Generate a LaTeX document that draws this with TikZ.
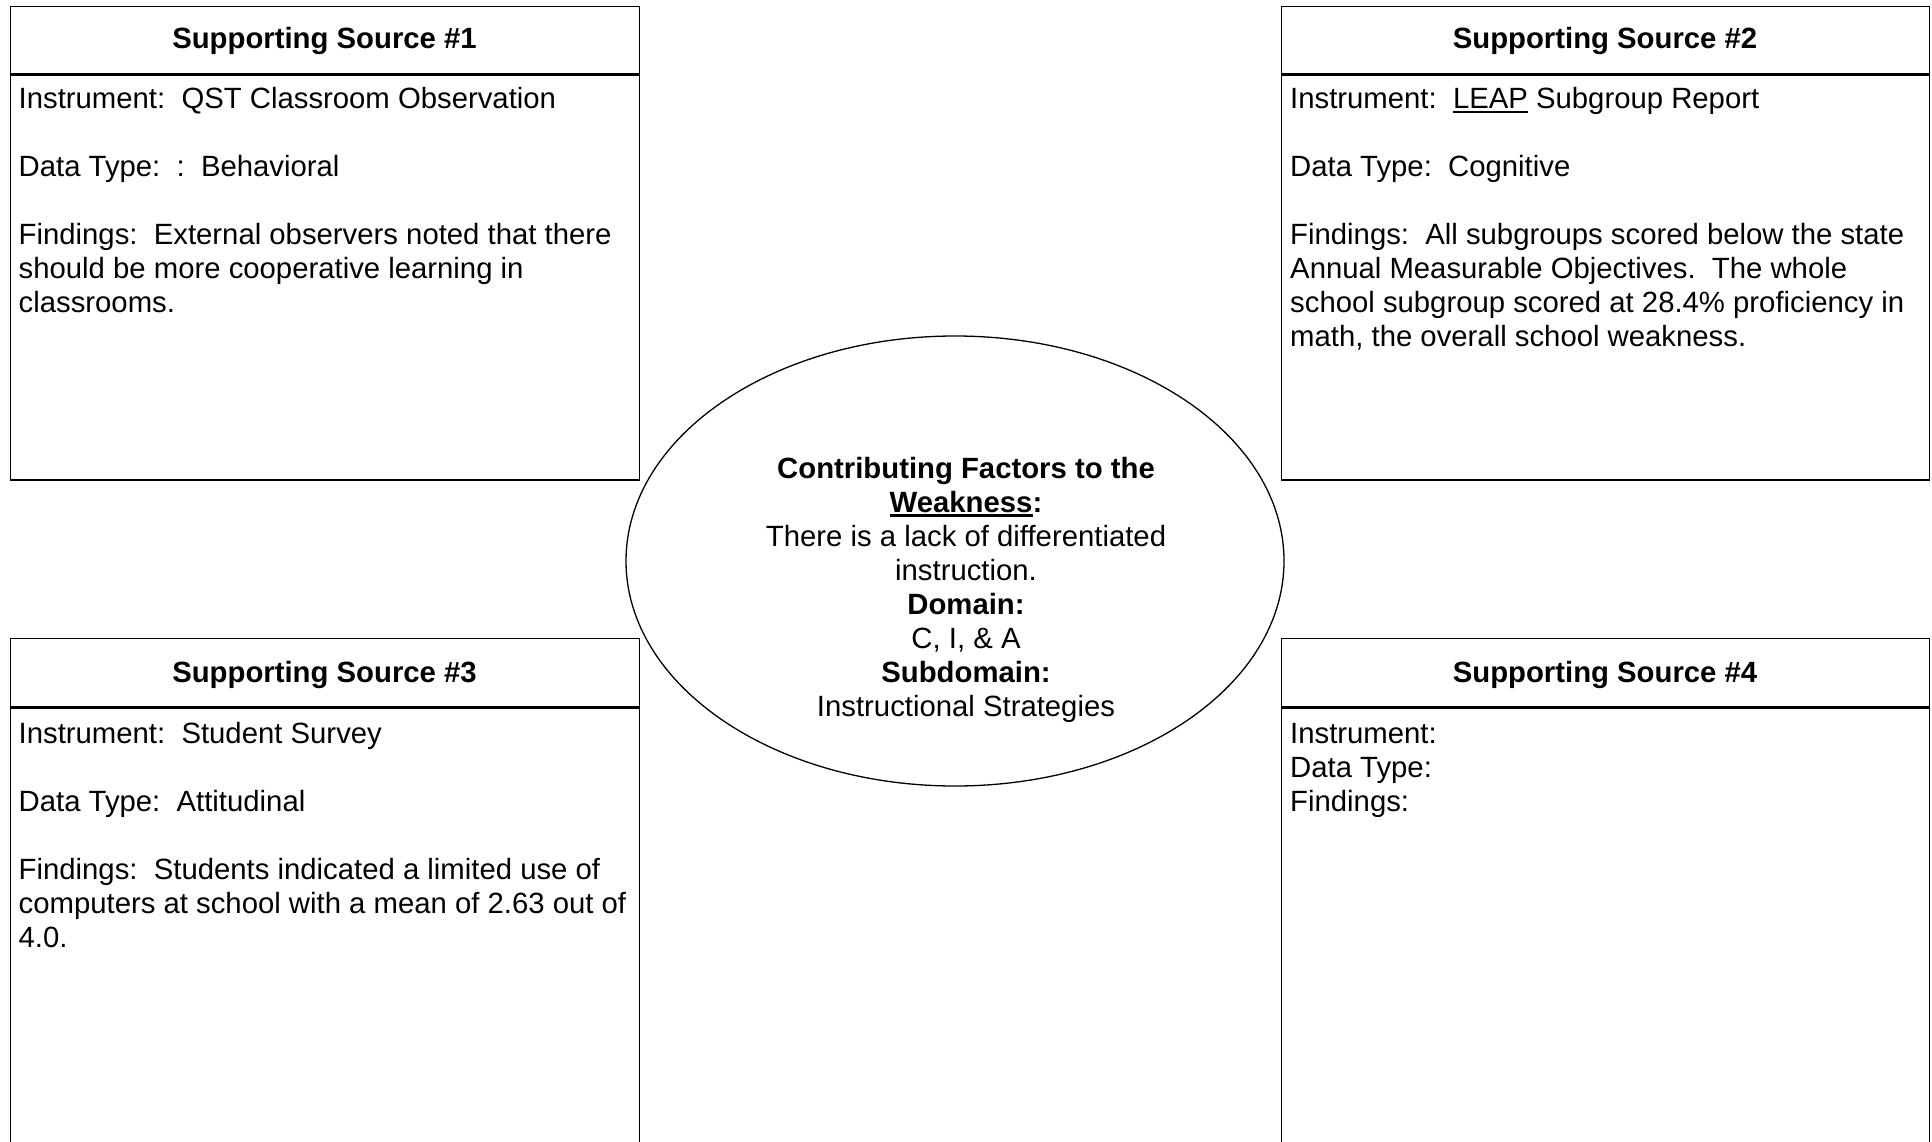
\documentclass[tikz,border=0pt]{standalone}
\usepackage{fontspec}
\setmainfont{Liberation Sans}
\usetikzlibrary{shapes.geometric}
\newcommand{\myul}[1]{\setbox0\hbox{#1}\rlap{\rule[-4.5pt]{\wd0}{2.2pt}}\box0\relax}
\frenchspacing
\begin{document}
\begin{tikzpicture}[x=1pt,y=-1pt,
  every node/.style={font=\fontsize{29.3}{34}\selectfont},
  frame/.style={draw, line width=1.3pt, rectangle, inner sep=0pt, anchor=north west},
  hdrtext/.style={anchor=base, inner sep=0pt, font=\fontsize{29.3}{34}\selectfont\bfseries},
  bodytext/.style={anchor=base west, inner sep=0pt},
  oval/.style={draw, ellipse, line width=1.3pt, fill=white, inner sep=0pt}]
\useasboundingbox (0,0) rectangle (1932,1142);
\clip (0,0) rectangle (1932,1142);
\fill[white] (0,0) rectangle (1932,1142);

% Source 1
\node[frame, minimum width=629pt, minimum height=67pt] (h1) at (10,6) {};
\node[frame, minimum width=629pt, minimum height=405pt] (b1) at (h1.south west) {};
\node[hdrtext] (t1) at (324.5,49) {Supporting Source \#1};
\node[bodytext] (d1) at (18.5,109) {\begin{tabular}[t]{@{}l@{}}
Instrument:\ \ QST Classroom Observation\\ \\
Data Type:\ \ :\ \ Behavioral\\ \\
Findings:\ \ External observers noted that there\\
should be more cooperative learning in\\
classrooms.\end{tabular}};

% Source 2
\node[frame, minimum width=648pt, minimum height=67pt] (h2) at (1281,6) {};
\node[frame, minimum width=648pt, minimum height=405pt] (b2) at (h2.south west) {};
\node[hdrtext] (t2) at (1605,49) {Supporting Source \#2};
\node[bodytext] (d2) at (1290,109) {\begin{tabular}[t]{@{}l@{}}
Instrument:\ \ \myul{LEAP} Subgroup Report\\ \\
Data Type:\ \ Cognitive\\ \\
Findings:\ \ All subgroups scored below the state\\
Annual Measurable Objectives.\ \ The whole\\
school subgroup scored at 28.4\% proficiency in\\
math, the overall school weakness.\end{tabular}};

% Source 3
\node[frame, minimum width=629pt, minimum height=68pt] (h3) at (10,638) {};
\node[frame, minimum width=629pt, minimum height=460pt] (b3) at (h3.south west) {};
\node[hdrtext] (t3) at (324.5,682) {Supporting Source \#3};
\node[bodytext] (d3) at (18.5,743) {\begin{tabular}[t]{@{}l@{}}
Instrument:\ \ Student Survey\\ \\
Data Type:\ \ Attitudinal\\ \\
Findings:\ \ Students indicated a limited use of\\
computers at school with a mean of 2.63 out of\\
4.0.\end{tabular}};

% Source 4
\node[frame, minimum width=648pt, minimum height=68pt] (h4) at (1281,638) {};
\node[frame, minimum width=648pt, minimum height=460pt] (b4) at (h4.south west) {};
\node[hdrtext] (t4) at (1605,682) {Supporting Source \#4};
\node[bodytext] (d4) at (1290,743) {\begin{tabular}[t]{@{}l@{}}
Instrument:\\
Data Type:\\
Findings:\end{tabular}};

% Centre ellipse
\node[oval, minimum width=658pt, minimum height=450pt] (e) at (955,561) {};
\node[anchor=base, inner sep=0pt] (et) at (966,478) {\begin{tabular}[t]{@{}c@{}}
\bfseries Contributing Factors to the\\
\bfseries\myul{Weakness}:\\
There is a lack of differentiated\\
instruction.\\
\bfseries Domain:\\
C, I, \& A\\
\bfseries Subdomain:\\
Instructional Strategies\end{tabular}};
\end{tikzpicture}
\end{document}
